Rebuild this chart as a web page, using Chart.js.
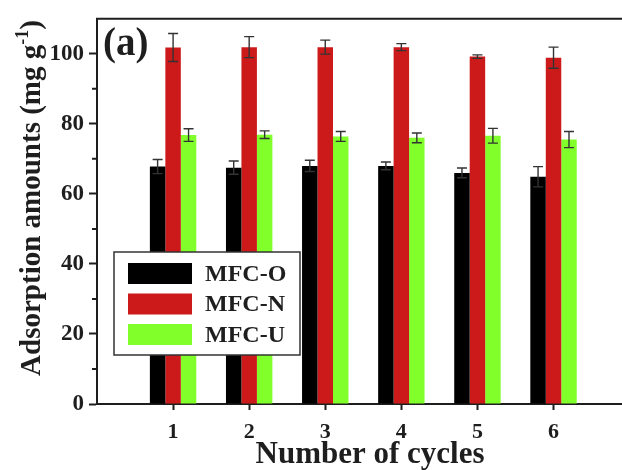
<!DOCTYPE html>
<html>
<head>
<meta charset="utf-8">
<script src="https://cdn.jsdelivr.net/npm/chart.js@4.4.1/dist/chart.umd.min.js"></script>
<style>
  html, body { margin: 0; padding: 0; background: #fff; }
  canvas { display: block; }
</style>
</head>
<body>
<canvas id="chart" width="622" height="470"></canvas>
<script>
// cycle numbers on the x axis
var cycles = [1, 2, 3, 4, 5, 6];

// adsorption amounts (mg/g) and their error bars
var mfcO = [67.8, 67.5, 68.0, 68.0, 66.0, 64.9];
var mfcOErr = [2.0, 1.9, 1.6, 1.1, 1.4, 2.9];
var mfcN = [101.8, 101.9, 101.9, 101.9, 99.2, 98.9];
var mfcNErr = [4.0, 3.0, 2.0, 1.0, 0.5, 3.0];
var mfcU = [76.8, 76.9, 76.4, 76.0, 76.6, 75.5];
var mfcUErr = [1.8, 1.1, 1.4, 1.4, 2.1, 2.3];

// y axis: labelled ticks and the unlabelled minor ones between them
var yLabels = [0, 20, 40, 60, 80, 100];
var yMinor = [10, 30, 50, 70, 90];

var seriesNames = ['MFC-O', 'MFC-N', 'MFC-U'];
var seriesColors = ['#000000', '#cc1a1a', '#80ff2a'];

var SERIF = '"Liberation Serif", "Times New Roman", serif';
var INK = '#1e1e1e';

function points(values) {
  return cycles.map(function (c, i) { return { x: c, y: values[i] }; });
}

var errs = [mfcOErr, mfcNErr, mfcUErr];

/* error bars on top of every bar */
var errorBars = {
  id: 'errorBars',
  afterDatasetsDraw: function (chart) {
    var ctx = chart.ctx;
    var y = chart.scales.y;
    ctx.save();
    ctx.strokeStyle = '#333';
    ctx.lineWidth = 1.4;
    chart.data.datasets.forEach(function (ds, i) {
      var meta = chart.getDatasetMeta(i);
      meta.data.forEach(function (bar, j) {
        var v = ds.data[j].y, e = errs[i][j];
        var top = y.getPixelForValue(v + e);
        var bot = y.getPixelForValue(v - e);
        ctx.beginPath();
        ctx.moveTo(bar.x, top); ctx.lineTo(bar.x, bot);
        ctx.moveTo(bar.x - 5, top); ctx.lineTo(bar.x + 5, top);
        ctx.moveTo(bar.x - 5, bot); ctx.lineTo(bar.x + 5, bot);
        ctx.stroke();
      });
    });
    ctx.restore();
  }
};

/* frame top line, minor ticks, panel label, axis titles and the boxed legend */
var decor = {
  id: 'decor',
  afterDraw: function (chart) {
    var ctx = chart.ctx;
    var a = chart.chartArea;
    var y = chart.scales.y;
    ctx.save();

    ctx.strokeStyle = INK;
    ctx.lineWidth = 2;
    ctx.beginPath();
    ctx.moveTo(a.left - 1, a.top);
    ctx.lineTo(a.right, a.top);
    yMinor.forEach(function (v) {
      var py = y.getPixelForValue(v);
      ctx.moveTo(a.left - 5, py);
      ctx.lineTo(a.left, py);
    });
    ctx.stroke();

    ctx.fillStyle = INK;
    ctx.textBaseline = 'alphabetic';
    ctx.textAlign = 'left';
    ctx.font = 'bold 39px ' + SERIF;
    ctx.fillText('(a)', a.left + 6, 55);

    // x title
    ctx.textAlign = 'center';
    ctx.font = 'bold 31px ' + SERIF;
    ctx.fillText('Number of cycles', 370, 463);

    // y title with superscript
    ctx.textAlign = 'left';
    var main = 'Adsorption amounts (mg g', sup = '-1', end = ')';
    ctx.font = 'bold 29px ' + SERIF;
    var w1 = ctx.measureText(main).width, w3 = ctx.measureText(end).width;
    ctx.font = 'bold 18px ' + SERIF;
    var w2 = ctx.measureText(sup).width;
    var total = w1 + w2 + w3;
    ctx.translate(40, 198);
    ctx.rotate(-Math.PI / 2);
    ctx.font = 'bold 29px ' + SERIF;
    ctx.fillText(main, -total / 2, 0);
    ctx.font = 'bold 18px ' + SERIF;
    ctx.fillText(sup, -total / 2 + w1, -12);
    ctx.font = 'bold 29px ' + SERIF;
    ctx.fillText(end, -total / 2 + w1 + w2, 0);
    ctx.setTransform(1, 0, 0, 1, 0, 0);

    // legend box
    var bx = 114, by = 252, bw = 186, bh = 103;
    ctx.fillStyle = '#fff';
    ctx.fillRect(bx, by, bw, bh);
    ctx.strokeStyle = '#333';
    ctx.lineWidth = 1.5;
    ctx.strokeRect(bx, by, bw, bh);
    ctx.font = 'bold 24px ' + SERIF;
    ctx.textBaseline = 'middle';
    chart.data.datasets.forEach(function (ds, i) {
      var cy = by + 21.5 + i * 30.5;
      ctx.fillStyle = ds.backgroundColor;
      ctx.fillRect(bx + 14, cy - 10.5, 64, 21);
      ctx.fillStyle = INK;
      ctx.fillText(ds.label, bx + 91, cy + 1);
    });
    ctx.restore();
  }
};

var datasets = [mfcO, mfcN, mfcU].map(function (vals, i) {
  return {
    label: seriesNames[i],
    data: points(vals),
    backgroundColor: seriesColors[i],
    borderWidth: 0,
    categoryPercentage: 0.61,
    barPercentage: 1.0
  };
});

new Chart(document.getElementById('chart').getContext('2d'), {
  type: 'bar',
  data: { datasets: datasets },
  options: {
    responsive: false,
    animation: false,
    layout: { padding: { top: 13, right: 0, bottom: 0, left: 0 } },
    plugins: { legend: { display: false }, tooltip: { enabled: false } },
    scales: {
      x: {
        type: 'linear',
        min: 0,
        max: 6.9,
        offset: false,
        afterBuildTicks: function (s) {
          s.ticks = cycles.map(function (c) { return { value: c }; });
        },
        afterFit: function (s) { s.height = 66; },
        ticks: {
          color: INK,
          padding: 9,
          font: { family: SERIF, size: 22, weight: 'bold' },
          callback: function (v) { return String(v); }
        },
        grid: { offset: false, drawOnChartArea: false, tickLength: 6, tickWidth: 2, tickColor: INK },
        border: { color: INK, width: 2 }
      },
      y: {
        min: 0,
        max: 110,
        afterBuildTicks: function (s) {
          s.ticks = yLabels.map(function (v) { return { value: v }; });
        },
        afterFit: function (s) { s.width = 97; },
        ticks: {
          color: INK,
          padding: 5,
          font: { family: SERIF, size: 23, weight: 'bold' },
          callback: function (v) { return String(v); }
        },
        grid: { drawOnChartArea: false, tickLength: 8, tickWidth: 2, tickColor: INK },
        border: { color: INK, width: 2 }
      }
    }
  },
  plugins: [errorBars, decor]
});
</script>
</body>
</html>
